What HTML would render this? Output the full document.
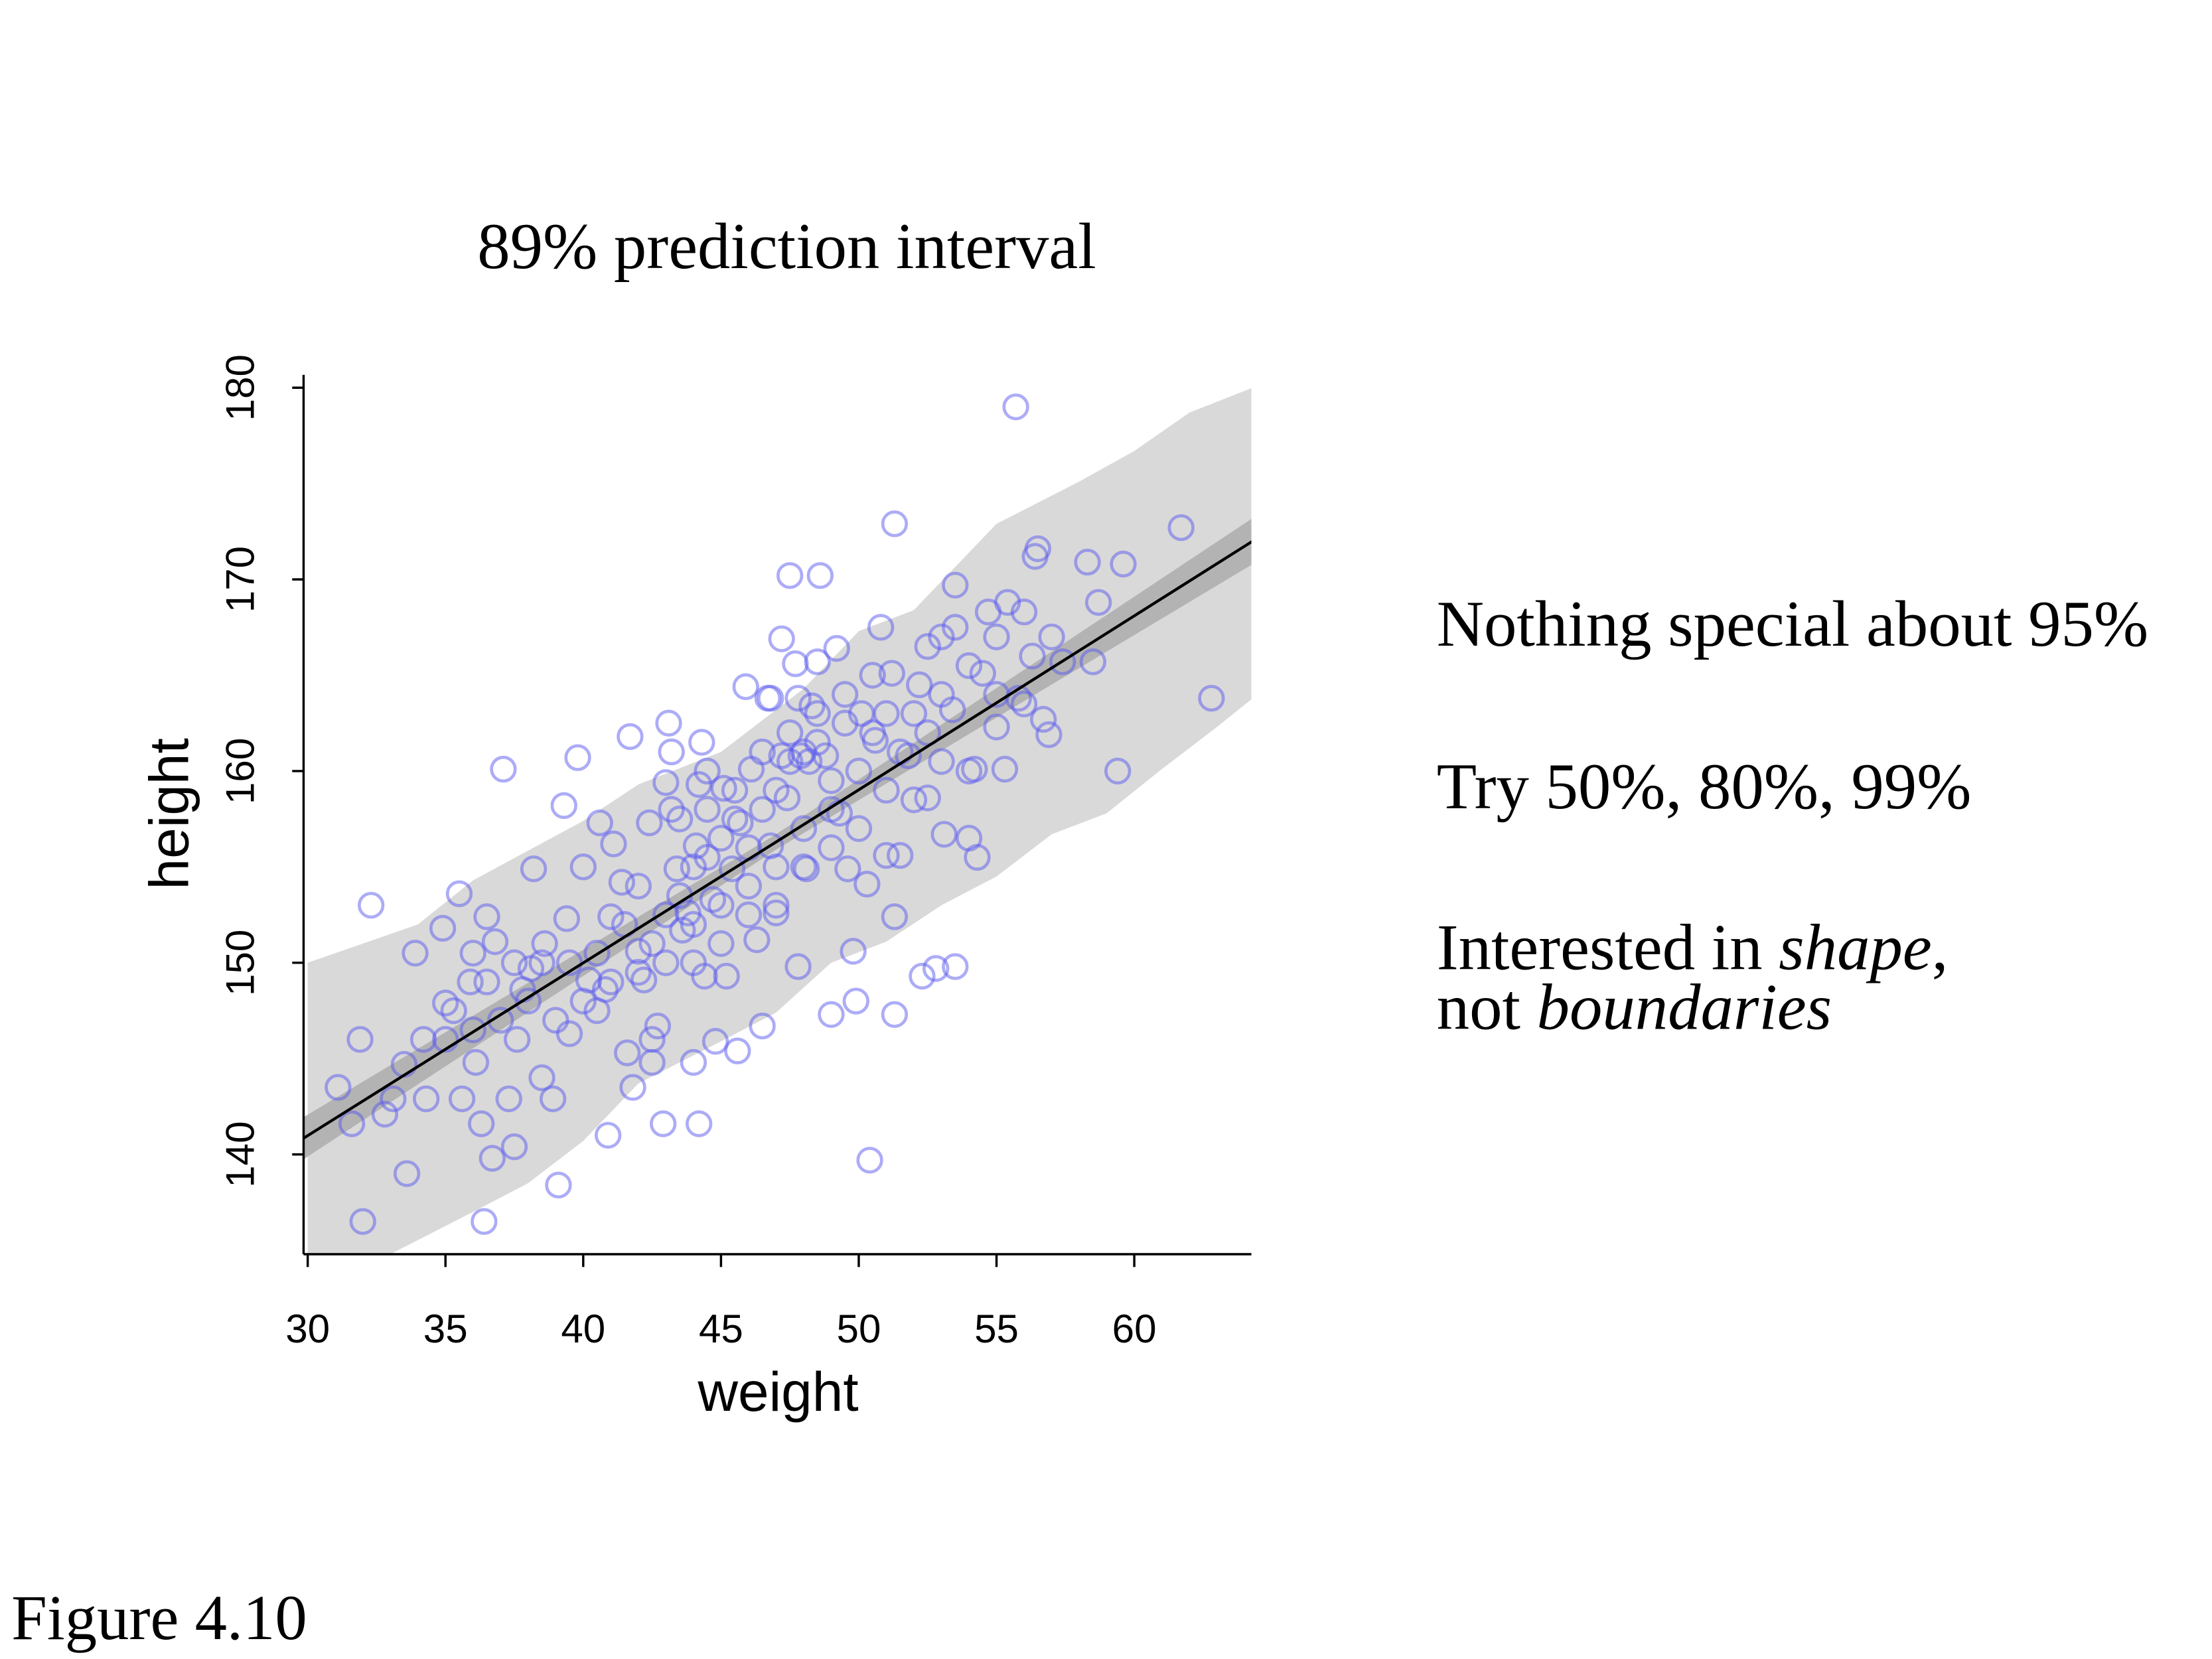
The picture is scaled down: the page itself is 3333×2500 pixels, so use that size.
<!DOCTYPE html>
<html><head><meta charset="utf-8"><style>
html,body{margin:0;padding:0;background:#fff;}
svg{display:block;}
.serif{font-family:"Liberation Serif",serif;}
.sans{font-family:"Liberation Sans",sans-serif;}
</style></head><body>
<svg id="chart" width="3333" height="2500" viewBox="0 0 1552 1164" xmlns="http://www.w3.org/2000/svg">
<rect width="1552" height="1164" fill="#fff"/>
<text class="serif" x="552" y="188" font-size="46" text-anchor="middle">89% prediction interval</text>
<defs><clipPath id="clip"><rect x="213" y="263" width="665" height="617"/></clipPath></defs>
<g id="plot" clip-path="url(#clip)"></g>
<g id="axes"></g>
<text class="sans" x="546" y="990" font-size="39" text-anchor="middle">weight</text>
<text class="sans" x="0" y="0" font-size="39" text-anchor="middle" transform="translate(132,571) rotate(-90)">height</text>
<g class="serif" font-size="46">
<text x="1008" y="453">Nothing special about 95%</text>
<text x="1008" y="567">Try 50%, 80%, 99%</text>
<text x="1008" y="680">Interested in <tspan font-style="italic">shape</tspan>,</text>
<text x="1008" y="722">not <tspan font-style="italic">boundaries</tspan></text>
</g>
<text class="serif" x="8" y="1150" font-size="45">Figure 4.10</text>
</svg>
<script>
const xTicks=[30,35,40,45,50,55,60];
const yTicks=[140,150,160,170,180];
const piW=[30,34,36,40,42,45,48,50,52,55,58,60,62,64.3];
const piUpper=[150.0,152.0,154.3,157.4,159.3,161.0,164.3,167.3,168.4,172.9,175.1,176.7,178.7,180.0];
const piLowW=[30,33,36,38,40,42,45,47,49,51,53,55,57,59,61,63,64.3];
const piLower=[134.5,134.8,137.0,138.5,140.7,143.7,145.9,147.4,150.0,151.1,153.0,154.5,156.7,157.8,160.1,162.3,163.8];
const meanW=[29.8,47,64.3];
const meanH=[140.8,156.3,172.0];
const ciHalf=[1.1,0.4,1.2];
const weights=[31.1,31.6,31.9,32.0,32.3,32.8,33.1,33.5,33.6,33.9,34.2,34.3,34.9,35.0,35.3,35.5,35.6,35.9,36.0,36.1,36.3,36.4,36.5,36.7,36.8,37.1,37.3,37.5,37.6,37.8,38.1,38.2,38.5,38.6,38.9,39.1,39.3,39.4,39.5,39.8,40.0,40.2,40.6,40.8,40.9,41.0,41.1,41.4,41.6,41.7,41.8,42.0,42.2,42.4,42.5,42.7,42.9,43.0,43.1,43.2,43.4,43.6,43.8,44.0,44.1,44.2,44.4,44.5,44.7,44.8,45.1,45.2,45.4,45.6,45.7,45.9,46.1,46.3,46.5,46.7,46.8,47.0,47.2,47.4,47.5,47.7,47.8,47.9,48.1,48.3,48.5,48.6,48.8,49.0,49.2,49.3,49.6,49.8,49.9,50.1,50.3,50.4,50.6,50.8,51.0,51.2,51.3,51.3,51.3,51.5,51.8,52.2,52.3,52.5,52.8,53.0,53.1,53.4,53.5,53.5,54.0,54.2,54.3,54.5,54.7,55.0,55.3,55.4,55.7,55.8,56.0,56.3,56.4,56.5,56.7,56.9,57.0,57.4,58.3,58.5,58.7,59.4,59.6,61.7,62.8,
40.5,41.5,42,42.5,43,43.5,44,44.5,45,45.5,46,46.5,47,47.5,48,48.5,49,49.5,50,50.5,51,51.5,52,52.5,53,54,44,43,42,41,40,39,38,37,36,35,45,46,47,48,49,50,39.5,38.5,40.5,42.5,44,45,46,47,48,49,36.5,37.5,43.5,44.5,45.5,46.5,47.5,48.5,49.5,50.5,51,52,53,54,55,56,55,53.5,52.5,47.8,46.8,48.2,47.2,44.3,43.2,44.2];
const heights=[143.5,141.6,146.0,136.5,153.0,142.1,142.9,144.7,139.0,150.5,146.0,142.9,151.8,147.9,147.5,153.6,142.9,149.0,150.5,144.8,141.6,136.5,152.4,139.8,151.1,160.1,142.9,140.4,146.0,148.6,149.7,154.9,144.0,151.0,142.9,138.4,158.2,152.3,146.3,160.7,155.0,149.1,157.3,148.6,141.0,152.4,156.2,154.2,145.3,161.8,143.5,150.6,149.1,157.3,144.8,146.7,141.6,159.4,162.5,158.0,154.9,151.7,152.6,144.8,156.1,141.6,149.3,158.0,153.3,145.9,159.1,149.3,154.9,145.4,157.3,164.4,160.1,151.2,146.7,163.8,156.1,152.6,166.9,158.6,170.2,165.6,149.8,160.8,154.9,163.4,165.7,170.2,160.8,147.3,166.4,157.8,154.9,150.6,148.0,163.0,154.1,139.7,161.6,167.5,155.6,165.1,172.9,152.4,147.3,155.6,160.8,164.5,149.3,158.6,149.7,167.0,156.7,163.2,149.8,169.7,156.5,160.1,155.5,165.1,168.3,162.3,160.1,168.8,179.0,163.8,168.3,166.0,171.2,171.6,162.7,161.9,167.0,165.7,170.9,165.7,168.8,160.0,170.8,172.7,163.8,
150.5,152,154,151,152.5,153.5,155,155.5,156.5,157.5,156,158,159,160.5,161,161.5,159.5,162.5,160,162,159,161,163,162,160.5,160,152,150,149.5,149,148,147,148,147,146.5,146,153,154,155,157,158,157,150,150,147.5,146,150,151,152.5,153,155,156,149,150,157.5,160,159,161,162,163,164,165,163,158.5,164,165.5,164,163.5,167,167.5,166.5,163.8,163.8,160.5,160.8,161.5,161,159.3];
const NS='http://www.w3.org/2000/svg';
const x0=213,x1=878,w0=29.85,w1=64.25;
function sx(w){return x0+(w-w0)*(x1-x0)/(w1-w0);}
function sy(h){return 272+(180-h)*13.45;}
const plot=document.getElementById('plot');
const axes=document.getElementById('axes');
function mk(tag,attrs,parent){const e=document.createElementNS(NS,tag);for(const k in attrs)e.setAttribute(k,attrs[k]);parent.appendChild(e);return e;}
let d='M'+piW.map((w,i)=>sx(w)+','+sy(piUpper[i])).join(' L');
for(let i=piLowW.length-1;i>=0;i--)d+=' L'+sx(piLowW[i])+','+sy(piLower[i]);
const band=mk('path',{d:d+'Z',fill:'#d9d9d9'},plot);


let c='M'+meanW.map((w,i)=>sx(w)+','+sy(meanH[i]+ciHalf[i])).join(' L');
for(let i=meanW.length-1;i>=0;i--)c+=' L'+sx(meanW[i])+','+sy(meanH[i]-ciHalf[i]);
const ci=mk('path',{d:c+'Z',fill:'#b3b3b3'},plot);


for(let i=0;i<weights.length;i++){
 const p=mk('circle',{cx:sx(weights[i]),cy:sy(heights[i]),r:8.3,fill:'none',stroke:'rgba(90,90,240,0.5)','stroke-width':2.2},plot);
 
 
}
const ml=mk('path',{d:'M'+meanW.map((w,i)=>sx(w)+','+sy(meanH[i])).join(' L'),stroke:'#000','stroke-width':2,fill:'none'},plot);


const ya=mk('line',{x1:213,y1:263,x2:213,y2:880,stroke:'#000','stroke-width':1.6},axes);


const xa=mk('line',{x1:213,y1:880,x2:878,y2:880,stroke:'#000','stroke-width':1.6},axes);


yTicks.forEach(t=>{
 const y=sy(t);
 const tk=mk('line',{x1:205,y1:y,x2:213,y2:y,stroke:'#000','stroke-width':1.6},axes);
 
 
 const lb=mk('text',{x:0,y:0,'font-size':28,'text-anchor':'middle','font-family':'Liberation Sans, sans-serif',transform:'translate(178,'+y+') rotate(-90)'},axes);
 lb.textContent=t;
 
 
});
xTicks.forEach(t=>{
 const x=sx(t);
 const tk=mk('line',{x1:x,y1:880,x2:x,y2:889,stroke:'#000','stroke-width':1.6},axes);
 
 
 const lb=mk('text',{x:x,y:942,'font-size':28,'text-anchor':'middle','font-family':'Liberation Sans, sans-serif'},axes);
 lb.textContent=t;
 
 
});
</script>
</body></html>
